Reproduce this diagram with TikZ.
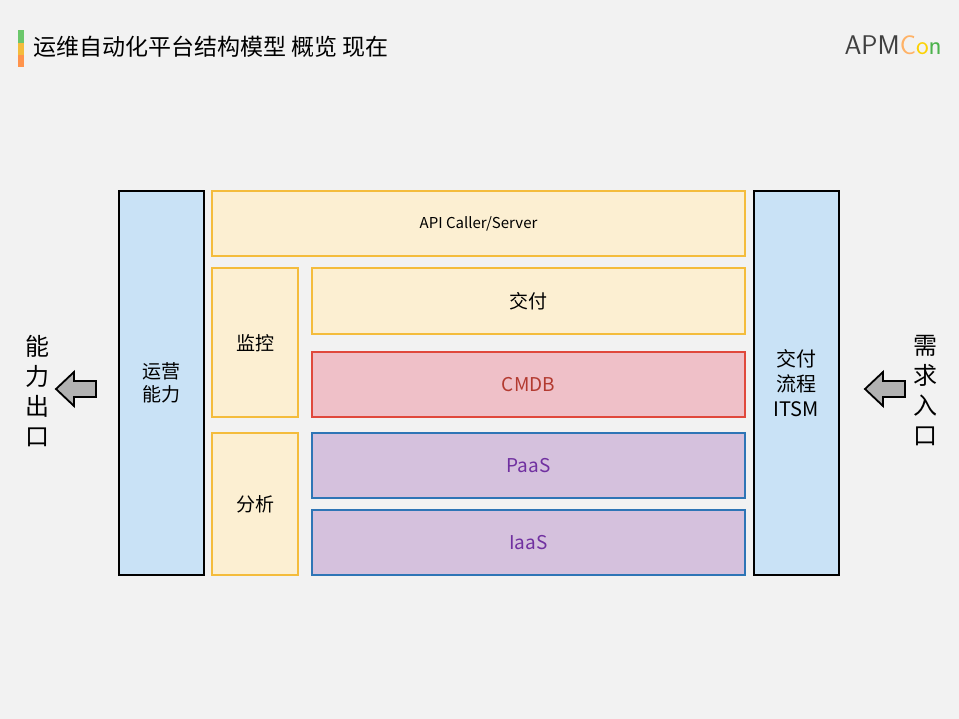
\documentclass[tikz,border=0pt]{standalone}
\usepackage{fontspec}
\setmainfont{Noto Sans CJK SC}
\definecolor{bg}{HTML}{F2F2F2}
\definecolor{yb}{HTML}{FCEFD2}
\definecolor{yd}{HTML}{F4BC3C}
\definecolor{bl}{HTML}{C9E2F6}
\definecolor{rb}{HTML}{EFC0C8}
\definecolor{rd}{HTML}{E0483C}
\definecolor{pb}{HTML}{D5C1DD}
\definecolor{pd}{HTML}{2E75B6}
\definecolor{pt}{HTML}{7030A0}
\tikzset{
 ybox/.style={draw=yd,fill=yb,line width=1.5pt},
 bbox/.style={draw=black,fill=bl,line width=1.5pt},
 rbox/.style={draw=rd,fill=rb,line width=1.5pt},
 pbox/.style={draw=pd,fill=pb,line width=1.5pt},
 lbl/.style={font=\fontsize{19}{23}\selectfont,align=center},
 arr/.style={draw=black,fill=gray!60,line width=1.8pt,line join=miter}
}
\begin{document}
\begin{tikzpicture}[x=1pt,y=-1pt]
\fill[bg] (0,0) rectangle (959,719);
\useasboundingbox (0,0) rectangle (959,719);
\fill[green!45!gray!80] (18,30) rectangle (24,43);
\fill[yd] (18,43) rectangle (24,55);
\fill[orange!80!red!70] (18,55) rectangle (24,67);
\node[anchor=west,font=\fontsize{23}{26}\selectfont,inner sep=0pt] (title) at (33,47) {运维自动化平台结构模型 概览 现在};
\node[anchor=east,font=\fontsize{27}{28}\selectfont\sffamily,inner sep=0pt] (logo) at (942,45) {\textcolor{black!75}{APM}\textcolor{orange!60}{C}\textcolor{yellow!70!orange}{o}\textcolor{green!40!gray}{n}};
\draw[bbox] (119,191) rectangle (204,575);
\node[lbl] (yy) at (161.5,383) {运营\\能力};
\draw[bbox] (754,191) rectangle (839,575);
\node[lbl,font=\fontsize{20}{25}\selectfont] (jf2) at (796.5,383) {交付\\流程\\ITSM};
\draw[ybox] (212,191) rectangle (745,256);
\node[font=\fontsize{15}{17}\selectfont] (api) at (478.5,223.5) {API Caller/Server};
\draw[ybox] (212,268) rectangle (298,417);
\node[lbl] (jk) at (255,343) {监控};
\draw[ybox] (312,268) rectangle (745,334);
\node[lbl] (jf) at (528.5,301) {交付};
\draw[rbox] (312,352) rectangle (745,417);
\node[lbl,text=rd!80!black] (cmdb) at (528.5,385) {CMDB};
\draw[ybox] (212,433) rectangle (298,575);
\node[lbl] (fx) at (255,504) {分析};
\draw[pbox] (312,433) rectangle (745,498);
\node[lbl,text=pt] (paas) at (528.5,466) {PaaS};
\draw[pbox] (312,510) rectangle (745,575);
\node[lbl,text=pt] (iaas) at (528.5,543) {IaaS};
\draw[arr] (56,389) -- (74,372) -- (74,381) -- (96,381) -- (96,397) -- (74,397) -- (74,406) -- cycle;
\draw[arr] (865,389) -- (883,372) -- (883,381) -- (905,381) -- (905,397) -- (883,397) -- (883,406) -- cycle;
\node[lbl,font=\fontsize{24}{30}\selectfont] (out) at (37,391) {能\\力\\出\\口};
\node[lbl,font=\fontsize{24}{30}\selectfont] (in) at (925,391) {需\\求\\入\\口};
\end{tikzpicture}
\end{document}
